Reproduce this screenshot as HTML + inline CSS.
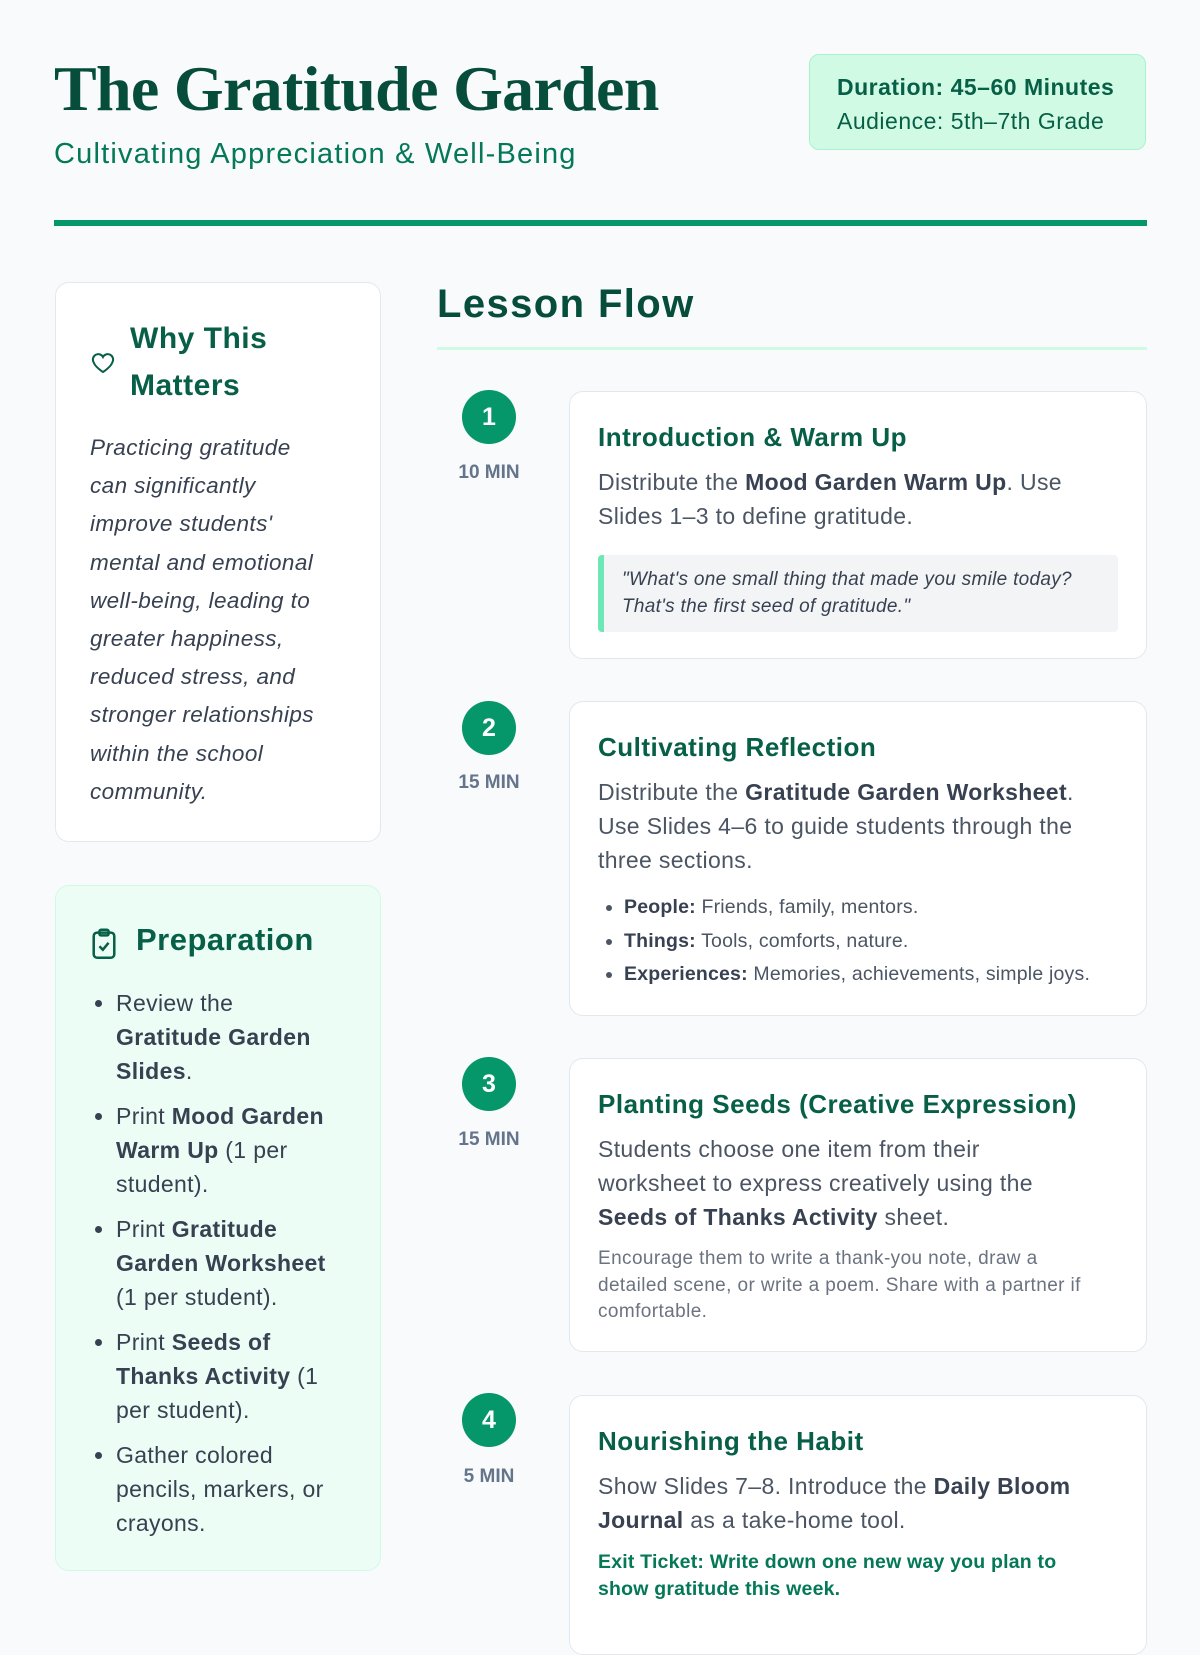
<!DOCTYPE html>
<html><head><meta charset="utf-8"><style>
*{margin:0;padding:0;box-sizing:border-box}
body{width:1200px;height:1600px;background:#f8fafc;font-family:"Liberation Sans",sans-serif;position:relative;overflow:hidden;color:#4b5563}
.a{position:absolute}
h1{position:absolute;left:54px;top:52px;font-family:"Liberation Serif",serif;font-weight:bold;font-size:64px;color:#064e3b;letter-spacing:-0.7px;white-space:nowrap}
.sub{left:54px;top:138px;font-size:29px;color:#047857;letter-spacing:1.2px;white-space:nowrap}
.badge{left:809px;top:54px;width:337px;height:96px;background:#d1fae5;border:1px solid #a7f3d0;border-radius:10px;padding:15px 0 0 27px;font-size:23px;color:#065f46;line-height:34px;letter-spacing:0.5px;white-space:nowrap}
.rule{left:54px;top:220px;width:1093px;height:6px;background:#059669}
.card{background:#fff;border:1px solid #e2e8f0;border-radius:14px}
.why{left:55px;top:282px;width:326px;height:560px}
.prep{left:55px;top:885px;width:326px;height:686px;background:#ecfdf5;border:1px solid #d1fae5;border-radius:14px}
.h3{font-weight:bold;color:#065f46;letter-spacing:0.5px}
.lf{left:437px;top:282px;font-size:40px;font-weight:bold;color:#064e3b;letter-spacing:1.4px}
.lfl{left:437px;top:347px;width:710px;height:3px;background:#d1fae5}
.num{width:54px;height:54px;border-radius:50%;background:#059669;color:#fff;font-weight:bold;font-size:25px;text-align:center;line-height:54px;left:462px}
.min{left:440px;width:98px;text-align:center;font-size:19px;font-weight:bold;color:#64748b}
.step{left:569px;width:578px;padding:30px 65px 0 28px}
.st{font-size:26px;font-weight:bold;color:#065f46;margin-bottom:12px;letter-spacing:0.5px;white-space:nowrap}
.sp{font-size:23px;line-height:34px;color:#4b5563;letter-spacing:0.35px}
b{color:#374151}
ul{padding-left:26px;letter-spacing:0.35px}
</style></head><body>
<h1>The Gratitude Garden</h1>
<div class="a sub">Cultivating Appreciation &amp; Well-Being</div>
<div class="a badge"><b style="color:#065f46">Duration: 45–60 Minutes</b><br>Audience: 5th–7th Grade</div>
<div class="a rule"></div>

<div class="a card why">
 <svg class="a" style="left:34px;top:68px" width="26" height="24" viewBox="0 0 24 24" fill="none" stroke="#065f46" stroke-width="2"><path d="M12 21s-8-5-9.5-10A5 5 0 0 1 12 6a5 5 0 0 1 9.5 5C20 16 12 21 12 21z"/></svg>
 <div class="a h3" style="left:74px;top:32px;font-size:30px;line-height:47px">Why This<br>Matters</div>
 <div class="a" style="left:34px;top:146px;width:238px;font-style:italic;font-size:22.5px;line-height:38.2px;color:#374151;letter-spacing:0.4px">Practicing gratitude can significantly improve students' mental and emotional well-being, leading to greater happiness, reduced stress, and stronger relationships within the school community.</div>
</div>

<div class="a prep">
 <svg class="a" style="left:34px;top:42px" width="28" height="32" viewBox="0 0 24 28" fill="none" stroke="#065f46" stroke-width="2.2"><rect x="3" y="4" width="18" height="22" rx="3"/><rect x="8" y="1.5" width="8" height="5" rx="1.5"/><path d="M8 16l3 3 5-6"/></svg>
 <div class="a h3" style="left:80px;top:36px;font-size:31px">Preparation</div>
 <ul class="a" style="left:34px;top:100px;width:250px;font-size:23px;line-height:34px;color:#374151">
  <li style="margin-bottom:11px">Review the <b>Gratitude Garden Slides</b>.</li>
  <li style="margin-bottom:11px">Print <b>Mood Garden Warm Up</b> (1 per student).</li>
  <li style="margin-bottom:11px">Print <b>Gratitude Garden Worksheet</b> (1 per student).</li>
  <li style="margin-bottom:11px">Print <b>Seeds of Thanks Activity</b> (1 per student).</li>
  <li>Gather colored pencils, markers, or crayons.</li>
 </ul>
</div>

<div class="a lf">Lesson Flow</div>
<div class="a lfl"></div>

<div class="a num" style="top:390px">1</div><div class="a min" style="top:462px">10 MIN</div>
<div class="a num" style="top:701px">2</div><div class="a min" style="top:772px">15 MIN</div>
<div class="a num" style="top:1057px">3</div><div class="a min" style="top:1129px">15 MIN</div>
<div class="a num" style="top:1393px">4</div><div class="a min" style="top:1466px">5 MIN</div>

<div class="a card step" style="top:391px;height:268px;padding-right:28px">
 <div class="st">Introduction &amp; Warm Up</div>
 <div class="sp" style="padding-right:37px">Distribute the <b>Mood Garden Warm Up</b>. Use Slides 1–3 to define gratitude.</div>
 <div style="margin-top:22px;background:#f3f4f6;border-left:6px solid #6ee7b7;border-radius:4px;padding:11px 14px 12px 18px;font-style:italic;font-size:19px;line-height:27px;color:#374151;letter-spacing:0.3px">"What's one small thing that made you smile today? That's the first seed of gratitude."</div>
</div>

<div class="a card step" style="top:701px;height:315px">
 <div class="st">Cultivating Reflection</div>
 <div class="sp">Distribute the <b>Gratitude Garden Worksheet</b>. Use Slides 4–6 to guide students through the three sections.</div>
 <ul style="margin-top:14px;font-size:19.5px;line-height:33.5px;color:#4b5563;letter-spacing:0.2px;white-space:nowrap">
  <li><b>People:</b> Friends, family, mentors.</li>
  <li><b>Things:</b> Tools, comforts, nature.</li>
  <li><b>Experiences:</b> Memories, achievements, simple joys.</li>
 </ul>
</div>

<div class="a card step" style="top:1058px;height:294px">
 <div class="st">Planting Seeds (Creative Expression)</div>
 <div class="sp">Students choose one item from their worksheet to express creatively using the <b>Seeds of Thanks Activity</b> sheet.</div>
 <div style="margin-top:12px;font-size:19px;line-height:26.5px;color:#6b7280;letter-spacing:0.4px">Encourage them to write a thank-you note, draw a detailed scene, or write a poem. Share with a partner if comfortable.</div>
</div>

<div class="a card step" style="top:1395px;height:260px">
 <div class="st">Nourishing the Habit</div>
 <div class="sp">Show Slides 7–8. Introduce the <b>Daily Bloom Journal</b> as a take-home tool.</div>
 <div style="margin-top:12px;font-size:19.5px;line-height:26.5px;color:#047857;font-weight:bold;letter-spacing:0.2px">Exit Ticket: Write down one new way you plan to show gratitude this week.</div>
</div>
</body></html>
